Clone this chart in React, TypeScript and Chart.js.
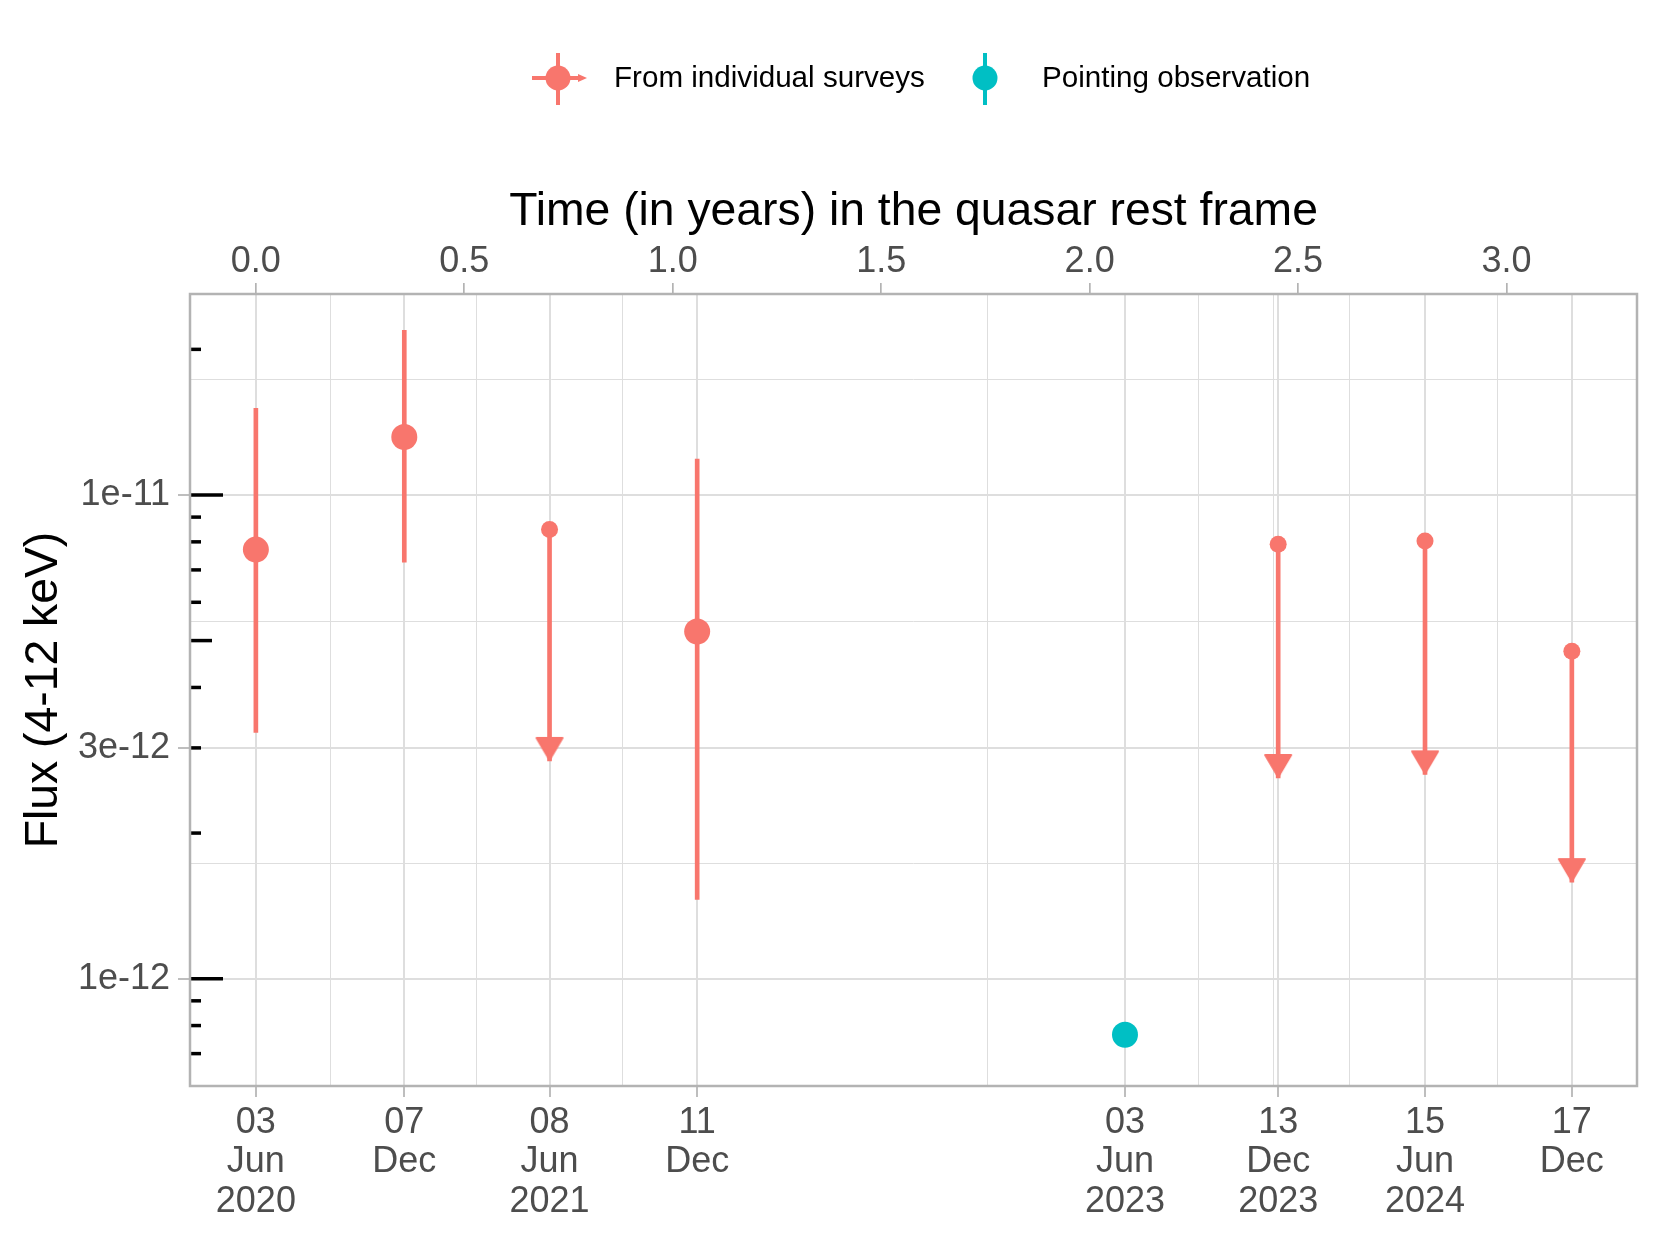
import React, { useEffect, useRef } from 'react';
import { Chart, registerables } from 'chart.js';

Chart.register(...registerables);

const PINK = '#F8766D';
const CYAN = '#00BFC4';
const FONT = "'Liberation Sans', Arial, sans-serif";

// redshift used to convert observed dates to rest-frame years
const Z = 0.438;
const START = '2020-06-03';

const obsDates = ['2020-06-03', '2020-12-07', '2021-06-08', '2021-12-11', '2023-06-03', '2023-12-13', '2024-06-15', '2024-12-17'];
const dateLabels = [['03', 'Jun', '2020'], ['07', 'Dec'], ['08', 'Jun', '2021'], ['11', 'Dec'], ['03', 'Jun', '2023'], ['13', 'Dec', '2023'], ['15', 'Jun', '2024'], ['17', 'Dec']];

// survey detections with error bars
const detDates = ['2020-06-03', '2020-12-07', '2021-12-11'];
const detFlux = [7.71e-12, 1.318e-11, 5.22e-12];
const detLow = [3.23e-12, 7.26e-12, 1.458e-12];
const detHigh = [1.51e-11, 2.19e-11, 1.187e-11];

// survey upper limits (arrow down to limEnd)
const limDates = ['2021-06-08', '2023-12-13', '2024-06-15', '2024-12-17'];
const limFlux = [8.48e-12, 7.91e-12, 8.03e-12, 4.75e-12];
const limEnd = [2.82e-12, 2.6e-12, 2.645e-12, 1.584e-12];

// pointing observation
const pointDates = ['2023-06-03'];
const pointFlux = [7.66e-13];

const topTicks = [0, 0.5, 1, 1.5, 2, 2.5, 3];
const xMinor = [0.178, 0.529, 0.88, 1.756, 2.262, 2.441, 2.624, 2.979];
const yMajor = [1e-12, 3e-12, 1e-11];
const yLabels = ['1e-12', '3e-12', '1e-11'];
const yMinor = [1.732e-12, 5.477e-12, 1.732e-11];
const logTickValues = [7e-13, 8e-13, 9e-13, 1e-12, 2e-12, 3e-12, 4e-12, 5e-12, 6e-12, 7e-12, 8e-12, 9e-12, 1e-11, 2e-11];

const X_MIN = -0.158;
const X_MAX = 3.313;
const Y_MIN = 6.225e-13;
const Y_MAX = 2.603e-11;

function restYears(d: string): number {
  return (Date.parse(d) - Date.parse(START)) / 86400000 / 365.25 / (1 + Z);
}

const obsX = obsDates.map(restYears);

function isMajorX(v: number | undefined) {
  if (v === undefined) return false;
  return obsX.some((o) => Math.abs(o - v) < 1e-7);
}
function majorYIndex(v: number | undefined) {
  if (v === undefined) return -1;
  return yMajor.findIndex((m) => Math.abs(m - v) / m < 1e-6);
}

function makeArrowHead(color: string) {
  const c = document.createElement('canvas');
  c.width = 30;
  c.height = 50;
  const g = c.getContext('2d')!;
  g.fillStyle = color;
  g.strokeStyle = color;
  g.lineWidth = 2;
  g.lineJoin = 'round';
  g.beginPath();
  g.moveTo(15, 24);
  g.lineTo(2, 2);
  g.lineTo(28, 2);
  g.closePath();
  g.fill();
  g.stroke();
  return c;
}

const decorPlugin = {
  id: 'decor',
  beforeDatasetsDraw(chart: any) {
    const { ctx, chartArea, scales } = chart;
    const y = scales.y;
    ctx.save();
    ctx.strokeStyle = '#000';
    ctx.lineWidth = 3.5;
    logTickValues.forEach((v) => {
      const m = Math.round(v / Math.pow(10, Math.floor(Math.log10(v) + 1e-9)));
      const len = m === 1 ? 33 : m === 5 ? 22 : 11;
      const py = y.getPixelForValue(v);
      ctx.beginPath();
      ctx.moveTo(chartArea.left, py);
      ctx.lineTo(chartArea.left + len, py);
      ctx.stroke();
    });
    ctx.restore();
  },
  afterDatasetsDraw(chart: any) {
    const { ctx, chartArea } = chart;
    ctx.save();
    ctx.strokeStyle = '#B3B3B3';
    ctx.lineWidth = 2.5;
    ctx.strokeRect(chartArea.left, chartArea.top, chartArea.right - chartArea.left, chartArea.bottom - chartArea.top);
    ctx.restore();
  },
  afterDraw(chart: any) {
    const { ctx } = chart;
    const ly = 78;
    ctx.save();
    // key 1
    ctx.strokeStyle = PINK;
    ctx.fillStyle = PINK;
    ctx.lineWidth = 4;
    ctx.beginPath();
    ctx.moveTo(558, 53);
    ctx.lineTo(558, 105);
    ctx.moveTo(532, ly);
    ctx.lineTo(580, ly);
    ctx.stroke();
    ctx.beginPath();
    ctx.moveTo(587, ly);
    ctx.lineTo(578, ly - 4);
    ctx.lineTo(578, ly + 4);
    ctx.closePath();
    ctx.fill();
    ctx.beginPath();
    ctx.arc(558, ly, 12.5, 0, Math.PI * 2);
    ctx.fill();
    // key 2
    ctx.strokeStyle = CYAN;
    ctx.fillStyle = CYAN;
    ctx.beginPath();
    ctx.moveTo(985, 53);
    ctx.lineTo(985, 105);
    ctx.stroke();
    ctx.beginPath();
    ctx.arc(985, ly, 12.5, 0, Math.PI * 2);
    ctx.fill();
    // texts
    ctx.fillStyle = '#000';
    ctx.font = `29.6px ${FONT}`;
    ctx.textBaseline = 'middle';
    ctx.textAlign = 'left';
    ctx.fillText('From individual surveys', 614, ly + 1);
    ctx.fillText('Pointing observation', 1042, ly + 1);
    ctx.restore();
  },
};

export default function App() {
  const ref = useRef<HTMLCanvasElement | null>(null);

  useEffect(() => {
    document.body.style.margin = '0';
    const canvas = ref.current;
    if (!canvas) return;
    Chart.defaults.font.family = FONT;

    const segs = [
      ...detDates.map((d, i) => ({ x: restYears(d), y: [detLow[i], detHigh[i]] })),
      ...limDates.map((d, i) => ({ x: restYears(d), y: [limEnd[i], limFlux[i]] })),
    ];
    const arrowPts = limDates.map((d, i) => ({ x: restYears(d), y: limEnd[i] }));
    const detPts = detDates.map((d, i) => ({ x: restYears(d), y: detFlux[i] }));
    const limPts = limDates.map((d, i) => ({ x: restYears(d), y: limFlux[i] }));
    const pointPts = pointDates.map((d, i) => ({ x: restYears(d), y: pointFlux[i] }));

    const chart = new Chart(canvas, {
      type: 'scatter',
      data: {
        datasets: [
          {
            type: 'bar',
            data: segs as any,
            backgroundColor: PINK,
            borderWidth: 0,
            barThickness: 4,
            grouped: false,
            order: 10,
            xAxisID: 'x',
            yAxisID: 'y',
          } as any,
          {
            type: 'scatter',
            data: arrowPts,
            pointStyle: makeArrowHead(PINK) as any,
            pointRadius: 12,
            order: 5,
            xAxisID: 'x',
            yAxisID: 'y',
          },
          {
            type: 'scatter',
            data: detPts,
            pointRadius: 13,
            backgroundColor: PINK,
            borderWidth: 0,
            order: 1,
            xAxisID: 'x',
            yAxisID: 'y',
          },
          {
            type: 'scatter',
            data: limPts,
            pointRadius: 8.5,
            backgroundColor: PINK,
            borderWidth: 0,
            order: 1,
            xAxisID: 'x',
            yAxisID: 'y',
          },
          {
            type: 'scatter',
            data: pointPts,
            pointRadius: 13,
            backgroundColor: CYAN,
            borderWidth: 0,
            order: 1,
            xAxisID: 'x',
            yAxisID: 'y',
          },
        ],
      },
      options: {
        animation: false,
        responsive: false,
        layout: { padding: { top: 130, right: 24, left: 0, bottom: 0 } },
        plugins: { legend: { display: false }, tooltip: { enabled: false } },
        scales: {
          x: {
            type: 'linear',
            position: 'bottom',
            min: X_MIN,
            max: X_MAX,
            offset: false,
            afterBuildTicks: (s: any) => {
              s.ticks = [...obsX, ...xMinor].sort((a, b) => a - b).map((v) => ({ value: v }));
            },
            afterFit: (s: any) => {
              s.height = 160;
            },
            ticks: {
              autoSkip: false,
              maxRotation: 0,
              minRotation: 0,
              padding: 6,
              color: '#4D4D4D',
              font: { size: 36, lineHeight: 1.1 },
              callback: (v: any) => {
                const i = obsX.findIndex((o) => Math.abs(o - Number(v)) < 1e-7);
                return i >= 0 ? dateLabels[i] : '';
              },
            },
            grid: {
              offset: false,
              color: '#DEDEDE',
              lineWidth: (c: any) => (isMajorX(c.tick?.value) ? 2 : 1),
              tickLength: 11,
              tickColor: (c: any) => (isMajorX(c.tick?.value) ? '#B3B3B3' : 'rgba(0,0,0,0)'),
              tickWidth: 1.7,
            },
            border: { display: false },
          },
          x2: {
            type: 'linear',
            position: 'top',
            min: X_MIN,
            max: X_MAX,
            offset: false,
            afterBuildTicks: (s: any) => {
              s.ticks = topTicks.map((v) => ({ value: v }));
            },
            afterFit: (s: any) => {
              s.height = 164;
            },
            ticks: {
              autoSkip: false,
              maxRotation: 0,
              minRotation: 0,
              padding: 1.5,
              color: '#4D4D4D',
              font: { size: 36, lineHeight: 1.1 },
              callback: (v: any) => Number(v).toFixed(1),
            },
            grid: {
              drawOnChartArea: false,
              tickLength: 11,
              tickColor: '#B3B3B3',
              tickWidth: 1.7,
              lineWidth: 1.7,
              color: '#B3B3B3',
            },
            border: { display: false },
            title: {
              display: true,
              text: 'Time (in years) in the quasar rest frame',
              color: '#000',
              font: { size: 46.3, lineHeight: 1.2 },
              padding: { top: 54.1, bottom: 0 },
            },
          },
          y: {
            type: 'logarithmic',
            position: 'left',
            min: Y_MIN,
            max: Y_MAX,
            afterBuildTicks: (s: any) => {
              s.ticks = [...yMajor, ...yMinor].sort((a, b) => a - b).map((v) => ({ value: v }));
            },
            afterFit: (s: any) => {
              s.width = 190;
            },
            ticks: {
              autoSkip: false,
              padding: 8,
              color: '#4D4D4D',
              font: { size: 36, lineHeight: 1.1 },
              callback: (v: any) => {
                const i = majorYIndex(Number(v));
                return i >= 0 ? yLabels[i] : '';
              },
            },
            grid: {
              color: '#DEDEDE',
              lineWidth: (c: any) => (majorYIndex(c.tick?.value) >= 0 ? 2 : 1),
              tickLength: 12,
              tickColor: (c: any) => (majorYIndex(c.tick?.value) >= 0 ? '#B3B3B3' : 'rgba(0,0,0,0)'),
              tickWidth: 1.7,
            },
            border: { display: false },
            title: {
              display: true,
              text: 'Flux (4-12 keV)',
              color: '#000',
              font: { size: 46.3, lineHeight: 1.2 },
              padding: { top: 16.8, bottom: 0 },
            },
          },
        },
      } as any,
      plugins: [decorPlugin],
    });

    return () => {
      chart.destroy();
    };
  }, []);

  return (
    <div style={{ width: 1661, height: 1246 }}>
      <canvas ref={ref} width={1661} height={1246} style={{ display: 'block', width: 1661, height: 1246 }} />
    </div>
  );
}
